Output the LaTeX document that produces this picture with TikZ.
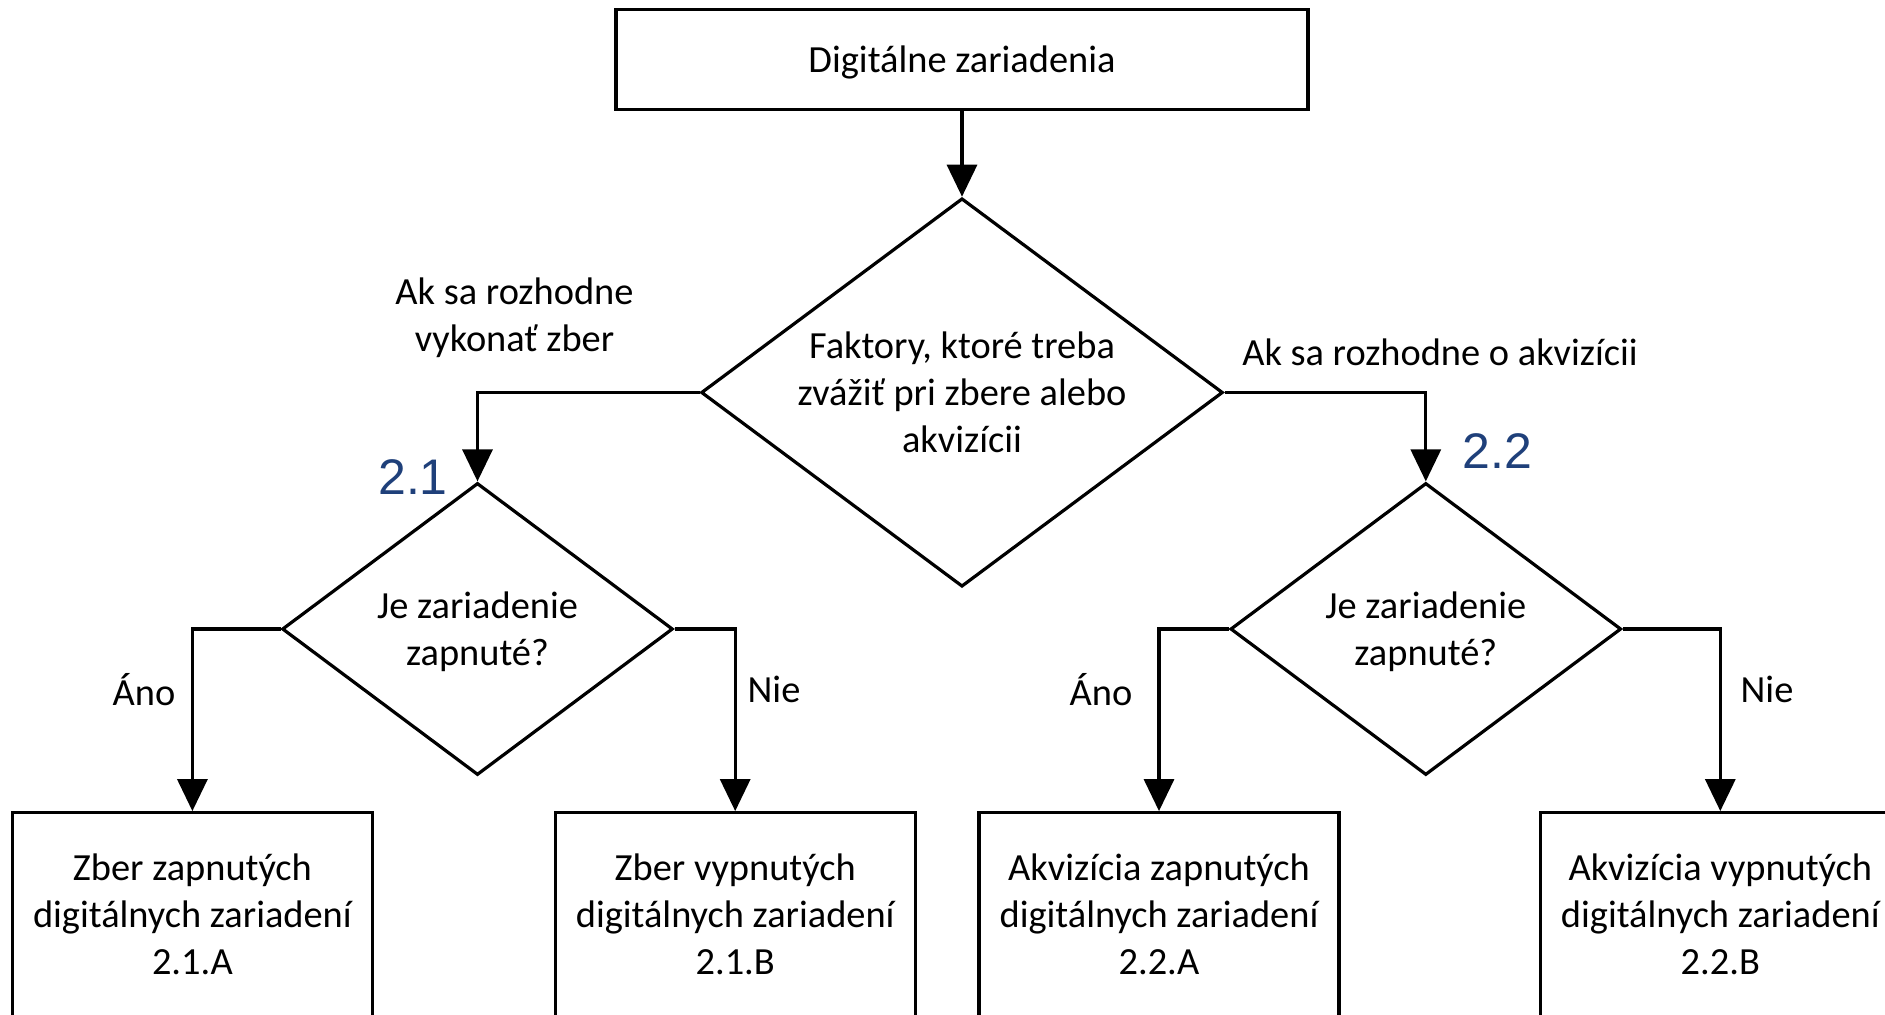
\documentclass[tikz,border=0pt]{standalone}
\usepackage{fontspec}
\setmainfont{Carlito}
\newfontfamily\numfont{Liberation Sans}
\usetikzlibrary{shapes.geometric,arrows.meta}
\definecolor{stepblue}{RGB}{31,64,122}
\begin{document}
\begin{tikzpicture}[x=0.5pt,y=-0.5pt,
  line width=1.6pt, line join=miter,
  every node/.style={font=\fontsize{19.2}{23.5}\selectfont},
  box/.style={draw, rectangle, inner sep=0pt, align=center},
  decision/.style={draw, diamond, inner sep=0pt},
  txt/.style={inner sep=0pt, align=center},
  num/.style={inner sep=0pt, text=stepblue, font=\numfont\fontsize{25}{30}\selectfont},
  arr/.style={-{Triangle[length=16pt,width=15pt]}}]
\useasboundingbox (0,0) rectangle (1885,1015);
\clip (0,0) rectangle (1885,1015);

% start box
\node[box, minimum width=346pt, minimum height=50pt] (top) at (962,59.5) {};
\node[txt] (topt) at (962,62) {Digitálne zariadenia};

% main decision
\node[decision, minimum width=260.9pt, minimum height=194.2pt] (d0) at (962,392.5) {};
\node[txt] (t0) at (962,392) {Faktory, ktoré treba\\zvážiť pri zbere alebo\\akvizícii};

% second-level decisions
\node[decision, minimum width=195.4pt, minimum height=146pt] (d1) at (477.5,629) {};
\node[txt] (t1) at (477.5,632) {Je zariadenie\\zapnuté?};
\node[decision, minimum width=195.4pt, minimum height=146pt] (d2) at (1425.8,629) {};
\node[txt] (t2) at (1425.8,632) {Je zariadenie\\zapnuté?};

% outcome boxes (run past the lower edge)
\node[box, minimum width=180pt, minimum height=106.15pt] (a1) at (192.4,918.85) {};
\node[box, minimum width=180pt, minimum height=106.15pt] (b1) at (735.2,918.85) {};
\node[box, minimum width=180pt, minimum height=106.15pt] (a2) at (1159,918.85) {};
\node[box, minimum width=180pt, minimum height=106.15pt] (b2) at (1720.3,918.85) {};
\node[txt] (a1t) at (192.4,914) {Zber zapnutých\\digitálnych zariadení\\2.1.A};
\node[txt] (b1t) at (735.2,914) {Zber vypnutých\\digitálnych zariadení\\2.1.B};
\node[txt] (a2t) at (1159,914) {Akvizícia zapnutých\\digitálnych zariadení\\2.2.A};
\node[txt] (b2t) at (1720.3,914) {Akvizícia vypnutých\\digitálnych zariadení\\2.2.B};

% connectors
\draw[arr] (top.south) -- (d0.north);
\draw[arr] (d0.west) -| (d1.north);
\draw[arr] (d0.east) -| (d2.north);
\draw[arr] (d1.west) -| (a1.north);
\draw[arr] (d1.east) -| (b1.north);
\draw[arr] (d2.west) -| (a2.north);
\draw[arr] (d2.east) -| (b2.north);

% branch labels
\node[txt] (l1) at (514.5,318) {Ak sa rozhodne\\vykonať zber};
\node[txt] (l2) at (1440,352) {Ak sa rozhodne o akvizícii};
\node[num] (n1) at (413,476.7) {2.1};
\node[num] (n2) at (1497.4,451.4) {2.2};
\node[txt] (y1) at (144,690) {Áno};
\node[txt] (no1) at (774,689) {Nie};
\node[txt] (y2) at (1101,690) {Áno};
\node[txt] (no2) at (1767,689) {Nie};
\end{tikzpicture}
\end{document}
